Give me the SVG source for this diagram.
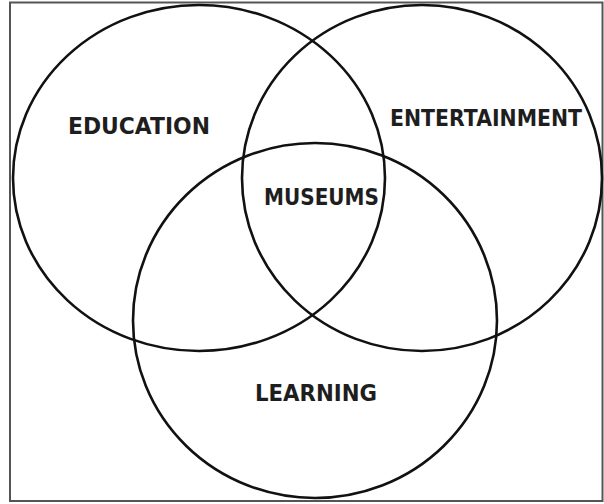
<svg xmlns="http://www.w3.org/2000/svg" width="604" height="504" viewBox="0 0 604 504">
<style>
.c{fill:none;stroke:#111;stroke-width:2.6}
.t{font-family:"DejaVu Sans","Liberation Sans",sans-serif;font-weight:bold;font-size:22.5px;fill:#1e1e1e}
</style>
<rect x="0" y="0" width="604" height="504" fill="#fff"/>
<rect x="10" y="2.5" width="592.5" height="498.5" fill="none" stroke="#555" stroke-width="2"/>
<g id="education"><ellipse class="c" cx="199" cy="178" rx="186" ry="173"/><text class="t" x="68" y="134" textLength="142" lengthAdjust="spacingAndGlyphs">EDUCATION</text></g>
<g id="entertainment"><ellipse class="c" cx="422" cy="178" rx="180" ry="173"/><text class="t" x="390" y="126" textLength="192" lengthAdjust="spacingAndGlyphs">ENTERTAINMENT</text></g>
<g id="learning"><ellipse class="c" cx="315" cy="320.5" rx="182" ry="177.5"/><text class="t" x="255" y="401" textLength="122" lengthAdjust="spacingAndGlyphs">LEARNING</text></g>
<g id="museums"><text class="t" x="264" y="205" textLength="115" lengthAdjust="spacingAndGlyphs">MUSEUMS</text></g>
<g id="connectors"/>
</svg>
